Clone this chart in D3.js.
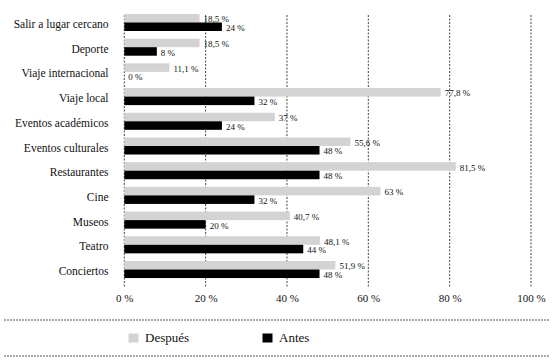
<!DOCTYPE html>
<html>
<head>
<meta charset="utf-8">
<script src="https://cdn.jsdelivr.net/npm/d3@7"></script>
<style>
  html, body { margin: 0; padding: 0; background: #fff; }
  svg { display: block; }
</style>
</head>
<body>
<svg id="chart" width="553" height="361"></svg>
<script>
const categories = ["Salir a lugar cercano", "Deporte", "Viaje internacional", "Viaje local",
  "Eventos académicos", "Eventos culturales", "Restaurantes", "Cine", "Museos", "Teatro", "Conciertos"];
const despues = [18.5, 18.5, 11.1, 77.8, 37, 55.6, 81.5, 63, 40.7, 48.1, 51.9];
const antes = [24, 8, 0, 32, 24, 48, 48, 32, 20, 44, 48];
const tickValues = [0, 20, 40, 60, 80, 100];
const tickLabels = ["0 %", "20 %", "40 %", "60 %", "80 %", "100 %"];
const seriesNames = ["Después", "Antes"];
const seriesColors = ["#d3d3d3", "#000000"];

const FONT = "'Liberation Serif', 'Times New Roman', serif";
const TXT = "#111";

const svg = d3.select("#chart");
const x = d3.scaleLinear().domain([0, 100]).range([124.3, 531]);
const y = d3.scaleBand().domain(categories).range([6.3, 285.7]).paddingInner(0.31).paddingOuter(0.31);
const sub = d3.scaleBand().domain(seriesNames).range([0, y.bandwidth()]);

const fmt = v => String(v).replace(".", ",") + " %";

// gridlines
svg.append("g").selectAll("line").data(tickValues).join("line")
  .attr("x1", d => x(d)).attr("x2", d => x(d))
  .attr("y1", 15).attr("y2", 287)
  .attr("stroke", "#444").attr("stroke-width", 1).attr("stroke-dasharray", "2,1.5");

// bars
const rows = categories.map((c, i) => ({ c, vals: [despues[i], antes[i]] }));
const g = svg.append("g");
rows.forEach(r => {
  r.vals.forEach((v, j) => {
    const yy = y(r.c) + sub(seriesNames[j]);
    g.append("rect")
      .attr("x", x(0)).attr("y", yy)
      .attr("width", x(v) - x(0)).attr("height", sub.bandwidth())
      .attr("fill", seriesColors[j]);
    g.append("text")
      .attr("x", x(v) + 4)
      .attr("y", yy + sub.bandwidth() / 2 + 1)
      .attr("dy", "0.35em")
      .style("font-family", FONT).style("font-size", "9px").style("fill", TXT)
      .text(fmt(v));
  });
});

// category labels
svg.append("g").selectAll("text").data(categories).join("text")
  .attr("x", 108.5)
  .attr("y", d => y(d) + y.bandwidth() / 2 + 1.5)
  .attr("dy", "0.35em")
  .attr("text-anchor", "end")
  .style("font-family", FONT).style("font-size", "11.5px").style("fill", TXT)
  .text(d => d);

// axis
const axis = d3.axisBottom(x).tickValues(tickValues).tickSize(0).tickFormat((d, i) => tickLabels[i]);
const ax = svg.append("g").attr("transform", "translate(0,291)").call(axis);
ax.select(".domain").remove();
ax.selectAll("text").style("font-family", FONT).style("font-size", "11px").style("fill", TXT);

// legend separators
[320, 356].forEach(yy => {
  svg.append("line").attr("x1", 4).attr("x2", 549).attr("y1", yy).attr("y2", yy)
    .attr("stroke", "#555").attr("stroke-width", 1).attr("stroke-dasharray", "2,1");
});

// legend
const legendX = [128.5, 262.5];
seriesNames.forEach((n, i) => {
  svg.append("rect").attr("x", legendX[i]).attr("y", 333.5).attr("width", 10).attr("height", 9)
    .attr("fill", seriesColors[i]);
  svg.append("text").attr("x", legendX[i] + 16.5).attr("y", 342)
    .style("font-family", FONT).style("font-size", "13px").style("fill", TXT)
    .text(n);
});
</script>
</body>
</html>
